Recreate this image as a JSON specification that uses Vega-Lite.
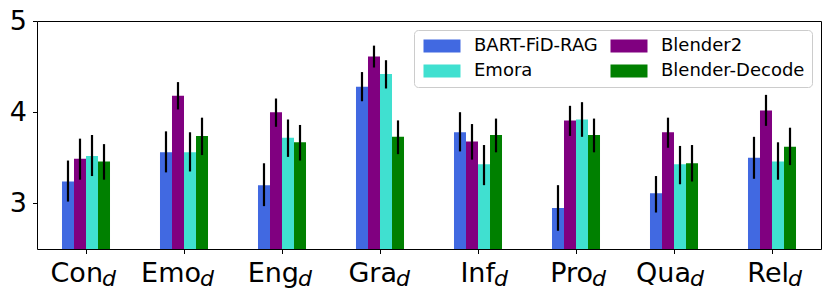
{
  "$schema": "https://vega.github.io/schema/vega-lite/v6.json",
  "width": 784,
  "height": 228,
  "autosize": {"type": "none"},
  "padding": {"left": 37, "top": 21, "right": 10, "bottom": 49},
  "background": "white",
  "config": {
    "font": "DejaVu Sans",
    "view": {"stroke": "#000", "strokeWidth": 1},
    "axis": {"grid": false, "domain": false, "tickColor": "#000", "labelColor": "#000", "tickWidth": 1}
  },
  "datasets": {
    "scores": [
      {"cat": "Con", "model": "BART-FiD-RAG", "value": 3.24, "lo": 3.02, "hi": 3.47},
      {"cat": "Con", "model": "Blender2", "value": 3.49, "lo": 3.26, "hi": 3.71},
      {"cat": "Con", "model": "Emora", "value": 3.52, "lo": 3.30, "hi": 3.75},
      {"cat": "Con", "model": "Blender-Decode", "value": 3.46, "lo": 3.26, "hi": 3.65},
      {"cat": "Emo", "model": "BART-FiD-RAG", "value": 3.56, "lo": 3.34, "hi": 3.79},
      {"cat": "Emo", "model": "Blender2", "value": 4.18, "lo": 4.03, "hi": 4.33},
      {"cat": "Emo", "model": "Emora", "value": 3.56, "lo": 3.35, "hi": 3.78},
      {"cat": "Emo", "model": "Blender-Decode", "value": 3.74, "lo": 3.53, "hi": 3.94},
      {"cat": "Eng", "model": "BART-FiD-RAG", "value": 3.20, "lo": 2.97, "hi": 3.44},
      {"cat": "Eng", "model": "Blender2", "value": 4.00, "lo": 3.84, "hi": 4.15},
      {"cat": "Eng", "model": "Emora", "value": 3.72, "lo": 3.51, "hi": 3.92},
      {"cat": "Eng", "model": "Blender-Decode", "value": 3.67, "lo": 3.47, "hi": 3.86},
      {"cat": "Gra", "model": "BART-FiD-RAG", "value": 4.28, "lo": 4.12, "hi": 4.44},
      {"cat": "Gra", "model": "Blender2", "value": 4.61, "lo": 4.49, "hi": 4.73},
      {"cat": "Gra", "model": "Emora", "value": 4.42, "lo": 4.26, "hi": 4.57},
      {"cat": "Gra", "model": "Blender-Decode", "value": 3.73, "lo": 3.54, "hi": 3.91},
      {"cat": "Inf", "model": "BART-FiD-RAG", "value": 3.78, "lo": 3.57, "hi": 4.00},
      {"cat": "Inf", "model": "Blender2", "value": 3.68, "lo": 3.48, "hi": 3.87},
      {"cat": "Inf", "model": "Emora", "value": 3.43, "lo": 3.20, "hi": 3.64},
      {"cat": "Inf", "model": "Blender-Decode", "value": 3.75, "lo": 3.56, "hi": 3.93},
      {"cat": "Pro", "model": "BART-FiD-RAG", "value": 2.95, "lo": 2.70, "hi": 3.20},
      {"cat": "Pro", "model": "Blender2", "value": 3.91, "lo": 3.74, "hi": 4.07},
      {"cat": "Pro", "model": "Emora", "value": 3.92, "lo": 3.73, "hi": 4.11},
      {"cat": "Pro", "model": "Blender-Decode", "value": 3.75, "lo": 3.56, "hi": 3.93},
      {"cat": "Qua", "model": "BART-FiD-RAG", "value": 3.11, "lo": 2.90, "hi": 3.30},
      {"cat": "Qua", "model": "Blender2", "value": 3.78, "lo": 3.61, "hi": 3.94},
      {"cat": "Qua", "model": "Emora", "value": 3.43, "lo": 3.21, "hi": 3.63},
      {"cat": "Qua", "model": "Blender-Decode", "value": 3.44, "lo": 3.24, "hi": 3.64},
      {"cat": "Rel", "model": "BART-FiD-RAG", "value": 3.50, "lo": 3.27, "hi": 3.73},
      {"cat": "Rel", "model": "Blender2", "value": 4.02, "lo": 3.85, "hi": 4.19},
      {"cat": "Rel", "model": "Emora", "value": 3.46, "lo": 3.26, "hi": 3.67},
      {"cat": "Rel", "model": "Blender-Decode", "value": 3.62, "lo": 3.42, "hi": 3.83}
    ],
    "cats": [
      {"cat": "Con", "sub": "d"}, {"cat": "Emo", "sub": "d"}, {"cat": "Eng", "sub": "d"}, {"cat": "Gra", "sub": "d"},
      {"cat": "Inf", "sub": "d"}, {"cat": "Pro", "sub": "d"}, {"cat": "Qua", "sub": "d"}, {"cat": "Rel", "sub": "d"}
    ]
  },
  "layer": [
    {
      "data": {"name": "scores"},
      "mark": {"type": "bar", "clip": true},
      "encoding": {
        "x": {
          "field": "cat", "type": "nominal",
          "sort": ["Con", "Emo", "Eng", "Gra", "Inf", "Pro", "Qua", "Rel"],
          "scale": {"paddingInner": 0.51, "paddingOuter": 0.255},
          "axis": {"title": null, "labels": false, "tickSize": 4.5}
        },
        "xOffset": {
          "field": "model", "type": "nominal",
          "sort": ["BART-FiD-RAG", "Blender2", "Emora", "Blender-Decode"],
          "scale": {"paddingInner": 0, "paddingOuter": 0}
        },
        "y": {
          "field": "value", "type": "quantitative",
          "scale": {"domain": [2.5, 5], "nice": false, "zero": false},
          "axis": {"title": null, "values": [3, 4, 5], "format": "d", "labelFontSize": 27, "tickSize": 4.5, "labelPadding": 6}
        },
        "color": {
          "field": "model", "type": "nominal",
          "scale": {"domain": ["BART-FiD-RAG", "Blender2", "Emora", "Blender-Decode"], "range": ["#4169E1", "#800080", "#40E0D0", "#008000"]},
          "legend": {
            "title": null, "orient": "top-right", "offset": 9, "columns": 2, "columnPadding": 10, "rowPadding": 7, "padding": 7,
            "values": ["BART-FiD-RAG", "Emora", "Blender2", "Blender-Decode"],
            "symbolType": "M-1,-1L4.692,-1L4.692,1L-1,1Z", "symbolSize": 169, "symbolStrokeWidth": 0, "symbolOpacity": 1,
            "labelFontSize": 18, "labelOffset": 35, "labelColor": "#000",
            "fillColor": "rgba(255,255,255,0.8)", "strokeColor": "#cccccc", "cornerRadius": 4
          }
        }
      }
    },
    {
      "data": {"name": "scores"},
      "mark": {"type": "rule", "color": "#000", "strokeWidth": 2.2},
      "encoding": {
        "x": {"field": "cat", "type": "nominal", "sort": ["Con", "Emo", "Eng", "Gra", "Inf", "Pro", "Qua", "Rel"]},
        "xOffset": {"field": "model", "type": "nominal", "sort": ["BART-FiD-RAG", "Blender2", "Emora", "Blender-Decode"]},
        "y": {"field": "lo", "type": "quantitative"},
        "y2": {"field": "hi"}
      }
    },
    {
      "data": {"name": "cats"},
      "mark": {"type": "text", "align": "right", "baseline": "alphabetic", "dx": 17, "dy": 32.5, "fontSize": 27, "color": "#000"},
      "encoding": {
        "x": {"field": "cat", "type": "nominal", "sort": ["Con", "Emo", "Eng", "Gra", "Inf", "Pro", "Qua", "Rel"]},
        "y": {"datum": 2.5, "type": "quantitative"},
        "text": {"field": "cat"}
      }
    },
    {
      "data": {"name": "cats"},
      "mark": {"type": "text", "align": "left", "baseline": "alphabetic", "dx": 16, "dy": 37, "fontSize": 22, "fontStyle": "italic", "color": "#000"},
      "encoding": {
        "x": {"field": "cat", "type": "nominal", "sort": ["Con", "Emo", "Eng", "Gra", "Inf", "Pro", "Qua", "Rel"]},
        "y": {"datum": 2.5, "type": "quantitative"},
        "text": {"field": "sub"}
      }
    }
  ]
}
